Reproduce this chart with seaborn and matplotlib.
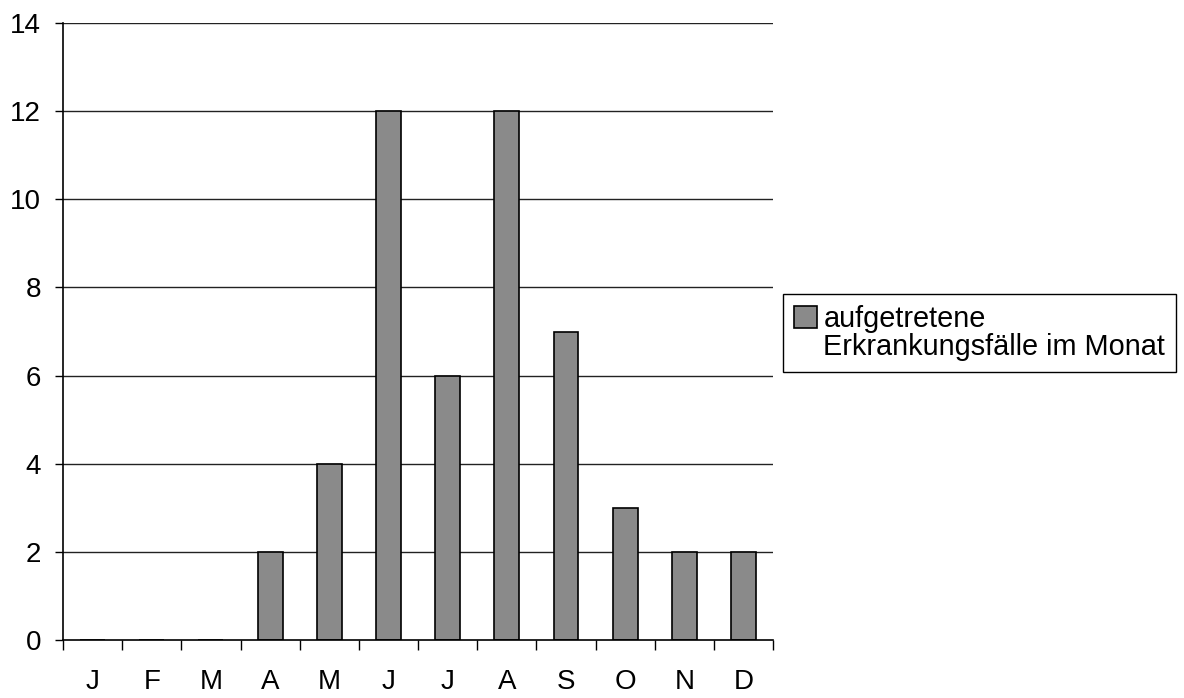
import matplotlib
matplotlib.use("Agg")
import matplotlib.pyplot as plt
from matplotlib.patches import Patch
import seaborn as sns
import pandas as pd
import numpy as np

months = ["J", "F", "M", "A", "M", "J", "J", "A", "S", "O", "N", "D"]
cases = [0, 0, 0, 2, 4, 12, 6, 12, 7, 3, 2, 2]
legend_lines = ["aufgetretene", "Erkrankungsfälle im Monat"]
y_ticks = [0, 2, 4, 6, 8, 10, 12, 14]

sns.set_style("white")
plt.rcParams["font.family"] = ["Liberation Sans", "DejaVu Sans"]
plt.rcParams["text.color"] = "black"
plt.rcParams["xtick.color"] = "black"
plt.rcParams["ytick.color"] = "black"
plt.rcParams["xtick.labelcolor"] = "black"
plt.rcParams["ytick.labelcolor"] = "black"

df = pd.DataFrame({"pos": np.arange(len(months)), "cases": cases})

fig = plt.figure(figsize=(11.84, 6.98), dpi=100)
ax = fig.add_axes([0.0532, 0.0831, 0.5997, 0.8839])

sns.barplot(data=df, x="pos", y="cases", order=list(df["pos"]),
            color="#8a8a8a", saturation=1, width=0.42,
            edgecolor="black", linewidth=1.2, ax=ax, zorder=3)

ax.set_xlim(-0.5, len(months) - 0.5)
ax.set_ylim(0, 14)
ax.set_yticks(y_ticks)
ax.set_yticklabels([str(t) for t in y_ticks], fontsize=20, color="black")
ax.set_xticks(df["pos"])
ax.set_xticklabels(months, fontsize=20, color="black")
ax.set_xticks(np.arange(len(months) + 1) - 0.5, minor=True)
ax.tick_params(axis="x", which="major", length=0, pad=21)
ax.tick_params(axis="x", which="minor", length=7.2, width=1, color="black",
               direction="out", bottom=True)
ax.tick_params(axis="y", length=5.8, width=1, color="black", direction="out",
               left=True, pad=10)
ax.set_xlabel("")
ax.set_ylabel("")

for t in y_ticks[1:]:
    ax.axhline(t, color="#222222", linewidth=1, zorder=1)

for side in ["top", "right"]:
    ax.spines[side].set_visible(False)
for side in ["left", "bottom"]:
    ax.spines[side].set_color("black")
    ax.spines[side].set_linewidth(1.2)
    ax.spines[side].set_zorder(5)

bar_handle = Patch(facecolor="#8a8a8a", edgecolor="black", linewidth=1.2)
blank_handle = Patch(facecolor="none", edgecolor="none")
leg = ax.legend([bar_handle, blank_handle], legend_lines,
                loc="upper left", bbox_to_anchor=(783 / 1184, 1 - 294 / 698),
                bbox_transform=fig.transFigure, frameon=True, fancybox=False,
                edgecolor="black", fontsize=20.8, handlelength=0.8,
                handleheight=0.8, handletextpad=0.22, borderpad=0.38,
                labelspacing=0.0, borderaxespad=0, framealpha=1,
                labelcolor="black")
leg.get_frame().set_linewidth(1)

fig.savefig("out.png", dpi=100)
